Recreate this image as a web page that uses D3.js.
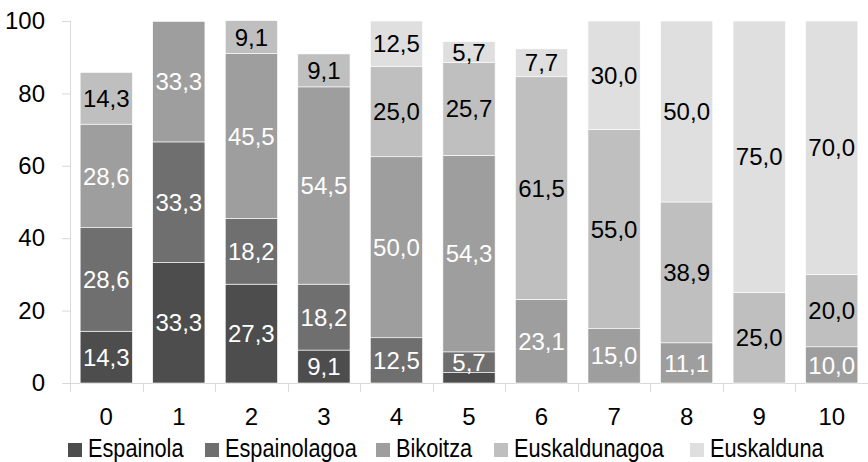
<!DOCTYPE html>
<meta charset="utf-8">
<title>Stacked bars</title>
<style>

body {
  margin: 0;
  background: #fff;
}

text {
  font-family: "Liberation Sans", Arial, sans-serif;
}

</style>
<body>
<script src="https://cdn.jsdelivr.net/npm/d3@7"></script>
<script>
var categories = ["0", "1", "2", "3", "4", "5", "6", "7", "8", "9", "10"];
var seriesNames = ["Espainola", "Espainolagoa", "Bikoitza", "Euskaldunagoa", "Euskalduna"];

var espainola     = [14.3, 33.3, 27.3,  9.1,  0,    2.9,  0,    0,    0,    0,    0];
var espainolagoa  = [28.6, 33.3, 18.2, 18.2, 12.5,  5.7,  0,    0,    0,    0,    0];
var bikoitza      = [28.6, 33.3, 45.5, 54.5, 50.0, 54.3, 23.1, 15.0, 11.1,  0,   10.0];
var euskaldunagoa = [14.3,  0,    9.1,  9.1, 25.0, 25.7, 61.5, 55.0, 38.9, 25.0, 20.0];
var euskalduna    = [ 0,    0,    0,    0,   12.5,  5.7,  7.7, 30.0, 50.0, 75.0, 70.0];

var yTicks = [0, 20, 40, 60, 80, 100];

var colors = ["#4d4d4d", "#6f6f6f", "#9e9e9e", "#bfbfbf", "#dfdfdf"];
var labelColors = ["#fff", "#fff", "#fff", "#000", "#000"];

var w = 868,
    h = 462,
    plotLeft = 70,
    plotRight = 868,
    plotTop = 21,
    plotBottom = 383;

var rows = categories.map(function(c, i) {
  return {
    cat: c,
    Espainola: espainola[i],
    Espainolagoa: espainolagoa[i],
    Bikoitza: bikoitza[i],
    Euskaldunagoa: euskaldunagoa[i],
    Euskalduna: euskalduna[i]
  };
});

var stacked = d3.stack().keys(seriesNames)(rows);

var x = d3.scaleBand()
    .domain(categories)
    .range([plotLeft, plotRight])
    .paddingInner(0.28)
    .paddingOuter(0.14);

var y = d3.scaleLinear()
    .domain([0, 100])
    .range([plotBottom, plotTop]);

var svg = d3.select("body").append("svg")
    .attr("width", w)
    .attr("height", h);

// y axis
var yAxis = svg.append("g")
    .attr("transform", "translate(" + plotLeft + ",0)")
    .call(d3.axisLeft(y).tickValues(yTicks).tickSize(8).tickPadding(17));
yAxis.selectAll("path, line").attr("stroke", "#d9d9d9");
yAxis.select("path").attr("d", "M0.5," + plotTop + "V" + plotBottom);
yAxis.selectAll("text")
    .attr("fill", "#000")
    .style("font-size", "24px");

// x axis: ticks at band boundaries
svg.append("line")
    .attr("x1", plotLeft - 8).attr("x2", plotRight)
    .attr("y1", plotBottom + 0.5).attr("y2", plotBottom + 0.5)
    .attr("stroke", "#d9d9d9");

svg.selectAll(".xtick")
    .data(categories)
  .enter().append("line")
    .attr("class", "xtick")
    .attr("x1", function(d) { return Math.round(x(d) - x.step() * 0.14) + 0.5; })
    .attr("x2", function(d) { return Math.round(x(d) - x.step() * 0.14) + 0.5; })
    .attr("y1", plotBottom)
    .attr("y2", plotBottom + 9)
    .attr("stroke", "#d9d9d9");

svg.selectAll(".xlabel")
    .data(categories)
  .enter().append("text")
    .attr("class", "xlabel")
    .attr("x", function(d) { return x(d) + x.bandwidth() / 2; })
    .attr("y", 425)
    .attr("text-anchor", "middle")
    .style("font-size", "24px")
    .text(function(d) { return d; });

// bars
var layer = svg.selectAll(".layer")
    .data(stacked)
  .enter().append("g")
    .attr("class", "layer")
    .attr("fill", function(d, i) { return colors[i]; });

layer.selectAll("rect")
    .data(function(d) { return d.filter(function(s) { return s[1] - s[0] > 0; }); })
  .enter().append("rect")
    .attr("x", function(d) { return x(d.data.cat); })
    .attr("y", function(d) { return y(d[1]); })
    .attr("width", x.bandwidth())
    .attr("height", function(d) { return y(d[0]) - y(d[1]); })
    .attr("stroke", "#fff")
    .attr("stroke-width", 0.6);

// value labels (tiny segment on 5 has none)
layer.each(function(series, i) {
  d3.select(this).selectAll("text")
      .data(series.filter(function(s) { return s[1] - s[0] >= 3; }))
    .enter().append("text")
      .attr("x", function(d) { return x(d.data.cat) + x.bandwidth() / 2; })
      .attr("y", function(d) { return y((d[0] + d[1]) / 2); })
      .attr("dy", "0.36em")
      .attr("text-anchor", "middle")
      .attr("fill", labelColors[i])
      .style("font-size", "24px")
      .text(function(d) { return d3.format(".1f")(d[1] - d[0]).replace(".", ","); });
});

// legend (text squeezed a bit, the original font is condensed)
var legendX = [68, 205, 376, 494, 690];
var legend = svg.append("g").attr("class", "legend")
    .selectAll("g")
    .data(seriesNames)
  .enter().append("g")
    .attr("transform", function(d, i) { return "translate(" + legendX[i] + ",443)"; });

legend.append("rect")
    .attr("width", 14)
    .attr("height", 14)
    .attr("fill", function(d, i) { return colors[i]; });

legend.append("text")
    .attr("transform", "translate(20,14) scale(0.87,1)")
    .style("font-size", "25px")
    .text(function(d) { return d; });
</script>
